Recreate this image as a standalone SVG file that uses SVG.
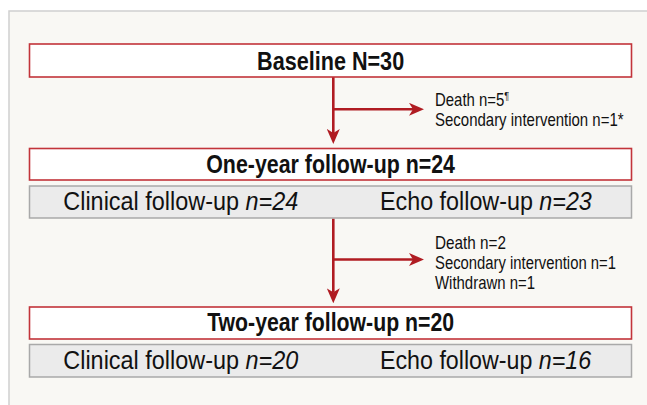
<svg xmlns="http://www.w3.org/2000/svg" width="647" height="405" viewBox="0 0 647 405">
  <defs>
    <style>
      .panel { fill: #f9f8f4; stroke: #cfcfcf; stroke-width: 1.5; }
      .main { fill: #ffffff; stroke: #c2343a; stroke-width: 1.6; }
      .sub { fill: #ebebeb; stroke: #a9a9a9; stroke-width: 1.5; }
      .title { font-family: "Liberation Sans", Arial, sans-serif; font-weight: bold; font-size: 25px; fill: #111; text-anchor: middle; }
      .body { font-family: "Liberation Sans", Arial, sans-serif; font-size: 25px; fill: #111; }
      .side { font-family: "Liberation Sans", Arial, sans-serif; font-size: 18px; fill: #111; }
      .conn { fill: none; stroke: #b01c22; stroke-width: 2.6; }
      .it { font-style: italic; }
    </style>
    <marker id="arr" viewBox="0 0 15 13" refX="4" refY="6.5" markerWidth="15" markerHeight="13" markerUnits="userSpaceOnUse" orient="auto">
      <path d="M0,0 L15,6.5 L0,13 L4,6.5 Z" fill="#b01c22"/>
    </marker>
  </defs>

  <rect class="panel" x="9" y="11" width="660" height="420"/>

  <g id="connectors">
    <path class="conn" d="M333.3,77 V133" marker-end="url(#arr)"/>
    <path class="conn" d="M333.3,109.3 H413" marker-end="url(#arr)"/>
    <path class="conn" d="M333.3,218.5 V292.3" marker-end="url(#arr)"/>
    <path class="conn" d="M333.3,259.5 H413" marker-end="url(#arr)"/>
  </g>

  <g id="baseline">
    <rect class="main" x="29.5" y="44" width="602" height="33"/>
    <text class="title" transform="translate(330.6,70) scale(0.864,1)">Baseline N=30</text>
  </g>

  <g id="exit1">
    <text class="side" transform="translate(435,106) scale(0.83,1)">Death n=5<tspan font-size="11" dy="-6">¶</tspan></text>
    <text class="side" transform="translate(435,126) scale(0.833,1)">Secondary  intervention n=1*</text>
  </g>

  <g id="oneyear">
    <rect class="main" x="29.5" y="148.5" width="602" height="31.5"/>
    <text class="title" transform="translate(330.6,173.3) scale(0.855,1)">One-year follow-up n=24</text>
  </g>

  <g id="oneyear-detail">
    <rect class="sub" x="29.5" y="186" width="602" height="32"/>
    <text class="body" transform="translate(63.3,210) scale(0.937,1)">Clinical follow-up <tspan class="it">n=24</tspan></text>
    <text class="body" transform="translate(380,210) scale(0.933,1)">Echo follow-up <tspan class="it">n=23</tspan></text>
  </g>

  <g id="exit2">
    <text class="side" transform="translate(435,249) scale(0.85,1)">Death n=2</text>
    <text class="side" transform="translate(435,269) scale(0.824,1)">Secondary  intervention n=1</text>
    <text class="side" transform="translate(435,289) scale(0.83,1)">Withdrawn n=1</text>
  </g>

  <g id="twoyear">
    <rect class="main" x="29.5" y="307" width="602" height="32"/>
    <text class="title" transform="translate(330.6,331) scale(0.85,1)">Two-year follow-up n=20</text>
  </g>

  <g id="twoyear-detail">
    <rect class="sub" x="29.5" y="344.5" width="602" height="32.5"/>
    <text class="body" transform="translate(63.3,369.3) scale(0.937,1)">Clinical follow-up <tspan class="it">n=20</tspan></text>
    <text class="body" transform="translate(380,369.3) scale(0.93,1)">Echo follow-up <tspan class="it">n=16</tspan></text>
  </g>
</svg>
